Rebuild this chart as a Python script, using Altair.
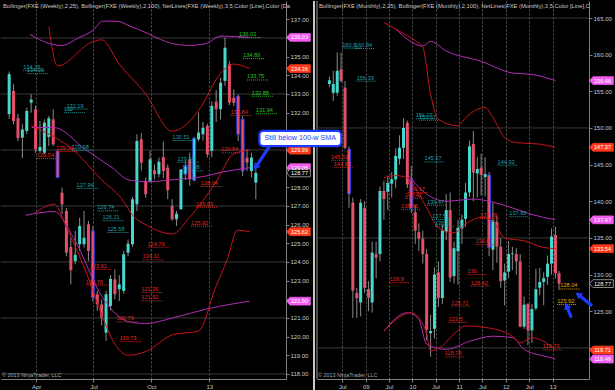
import altair as alt
import pandas as pd

FONT = "Liberation Sans"
UP, DN = "#46d8cc", "#e2506a"
WICK = "#8a8a8a"
BLUE = "#1e3cff"
RED_LINE, MAG_LINE = "#c8141c", "#b52db5"
TEAL, RED_TXT, GREEN, ORANGE = "#1f9fa6", "#e0281c", "#24c424", "#e8a000"
AXIS_C, LABEL_C, GRID_C, VGRID_C = "#808080", "#c8c8c8", "#3a3a3a", "#5a5a5a"
TAG_MAG, TAG_RED = "#f25cf2", "#ff3a1a"

LW, RW, H = 285, 272, 378
GAP = 31

# ---------------- weekly candles (left) ----------------
W_START = "2012-02-18"
W_OPEN = [131.92,133.16,131.70,130.66,131.02,132.53,132.18,129.95,129.85,130.70,
          131.64,129.95,127.71,126.73,124.80,124.05,124.95,124.95,126.02,125.66,
          122.27,121.73,120.21,121.64,123.07,122.54,122.45,124.50,124.95,127.09,
          130.57,128.34,128.34,128.91,128.70,129.62,129.05,127.00,126.29,126.82,
          128.70,129.50,128.38,130.57,130.84,131.29,129.95,132.59,132.18,133.70,
          134.59,132.80,132.89,131.64,129.59,128.87,128.25]
W_HIGH = [134.20,133.52,131.93,131.40,132.27,132.98,132.36,131.55,131.64,131.82,
          132.18,129.95,127.98,126.90,125.30,125.66,126.37,126.73,126.20,125.90,
          122.45,122.00,122.45,123.30,123.60,123.30,124.60,125.20,127.50,130.84,
          130.90,128.52,129.95,129.23,129.59,130.45,129.23,127.36,126.73,128.96,
          129.40,129.85,130.70,132.00,131.50,131.40,132.60,133.20,133.87,136.01,
          134.75,133.25,132.98,131.82,130.04,129.85,128.96]
W_LOW = [131.66,131.37,130.48,129.57,130.84,132.00,129.85,129.85,129.77,130.21,
         130.21,128.52,126.56,124.30,122.80,123.88,124.59,124.77,124.05,121.90,
         121.38,120.60,119.77,121.40,122.00,121.90,122.30,124.30,124.80,126.73,
         128.90,127.44,128.25,128.43,128.52,128.50,127.36,126.20,125.93,126.82,
         128.40,128.07,128.30,130.48,130.50,129.60,129.60,131.50,131.64,133.43,
         132.40,132.36,130.48,128.60,128.87,128.52,127.36]
W_CLOSE = [134.06,131.55,130.63,131.10,132.09,132.70,130.04,130.16,131.46,131.70,
           130.30,128.52,127.09,124.50,123.56,124.38,125.93,125.30,124.59,122.09,
           121.73,121.02,122.27,123.09,122.27,122.80,124.41,124.98,127.36,130.48,
           129.32,127.63,129.50,128.70,129.37,128.87,127.84,126.29,126.59,128.96,
           129.14,128.43,130.63,130.93,131.19,129.77,132.36,132.18,133.60,135.48,
           132.53,132.53,130.84,128.87,129.32,129.59,128.77]
W_BLUE = [11, 19, 40, 42, 52, 53]

# weekly bands (week index from first bar, value)
W_B25U_W = [9, 11, 19, 21, 25, 31, 37, 43, 48, 51, 54.6]
W_B25U_V = [136.6, 134.5, 135.8, 135.9, 134.6, 133.0, 131.0, 132.1, 134.1, 134.6, 134.36]
W_B25M_W = [5, 15, 21, 25.5, 28.4, 31, 37, 41, 47, 51, 54.6]
W_B25M_V = [131.3, 129.9, 128.4, 127.4, 126.4, 126.0, 125.5, 126.4, 128.3, 129.8, 129.99]
W_B25L_W = [5.8, 10.2, 13.1, 17.4, 21.8, 24, 27.1, 31, 37.1, 43, 46.8, 49.6, 51.8, 54.6]
W_B25L_V = [126.6, 127.1, 125.8, 123.5, 120.7, 119.6, 119.0, 119.2, 120.1, 120.3, 122.6, 124.2, 125.7, 125.62]
W_B100U_W = [4.7, 9.1, 12, 15.7, 19, 21.2, 24.4, 27.7, 29.9, 37.1, 40.9, 44.6, 48.1, 54.6]
W_B100U_V = [136.2, 135.7, 135.6, 136.0, 136.4, 136.9, 136.9, 136.6, 136.4, 135.7, 135.6, 135.7, 136.1, 136.03]
W_B100M_W = [5.1, 10.2, 17.4, 23.4, 27.1, 31, 37.1, 44.6, 48.1, 54.6]
W_B100M_V = [131.2, 131.2, 130.0, 129.05, 128.4, 128.3, 128.4, 128.6, 128.8, 129.05]
W_B100L_W = [3.7, 10.2, 14.6, 21.2, 27.1, 31, 37.1, 45.2, 54.6]
W_B100L_V = [126.5, 126.7, 125.3, 122.1, 120.8, 120.7, 121.0, 121.5, 121.90]

# weekly NetLines labels
WL_TXT = ["134.26","134.09","132.19","132","129.98","127.94","126.74","126.21","125.58",
          "130.51","129.34","128.88",
          "129.91","129.54","123.61","122.76","124.79","124.11","122.36","121.92","120.79",
          "119.73","128.04","126.93","125.92","131.84","129.84",
          "136.03","134.89","133.75","132.88","131.94"]
WL_W = [3.2, 4.0, 13.0, 12.4, 14.2, 15.3, 20.0, 21.2, 22.3,
        37.1, 38.2, 39.3,
        10.7, 6.3, 18.3, 17.4, 31.4, 30.3, 30.0, 30.0, 24.4,
        25.1, 43.5, 42.4, 41.3, 50.3, 48.1,
        52.2, 53.1, 54.0, 55.1, 56.0]
WL_KIND = ["t"] * 12 + ["r"] * 15 + ["g"] * 5

WT_V = [136.03, 134.36, 129.99, 129.05, 125.62, 121.90, 128.77]
WT_K = ["m", "r", "r", "m", "r", "m", "k"]

# ---------------- monthly candles (right) ----------------
M_MONTHS = pd.period_range("2008-04", "2013-03", freq="M").strftime("%Y-%m").tolist()
M_OPEN = [156.0,154.8,154.8,158.0,155.5,147.1,139.8,127.5,126.2,139.1,
          128.0,126.2,132.8,132.8,141.4,141.3,142.4,143.0,145.8,147.3,
          150.7,143.0,138.5,135.8,134.9,132.8,122.0,122.6,130.3,126.8,
          135.8,138.8,129.8,133.2,136.3,137.6,141.2,147.8,143.8,144.6,
          143.3,143.6,133.4,137.2,133.8,129.2,130.4,132.8,132.8,131.8,
          122.9,126.0,122.4,125.4,128.2,129.0,129.7,131.5,135.4,130.2]
M_HIGH = [157.0,157.8,160.3,160.3,156.4,147.5,140.5,128.2,140.3,140.0,
          129.1,134.5,134.5,142.0,142.8,143.5,144.0,147.2,149.0,151.3,
          151.0,144.8,139.5,137.0,136.0,133.5,124.5,131.0,131.8,136.8,
          141.0,141.2,134.5,137.5,138.2,142.5,148.3,149.6,146.0,146.5,
          146.0,144.0,139.8,138.0,135.0,131.5,134.6,133.8,133.6,132.8,
          127.0,126.1,126.0,130.8,130.9,130.3,132.6,136.3,136.5,130.5]
M_LOW = [155.6,153.7,154.4,156.2,147.1,139.1,124.1,124.1,124.3,127.5,
         125.0,124.8,129.5,131.8,137.5,138.8,140.5,141.8,145.0,145.8,
         141.8,138.4,134.2,133.2,131.5,121.0,118.8,121.3,125.6,126.0,
         134.7,129.0,128.8,128.6,134.2,136.5,140.6,140.0,140.5,140.8,
         140.7,132.5,130.6,131.6,128.2,125.8,129.5,130.6,130.0,122.8,
         122.6,120.4,120.7,125.1,127.2,125.8,128.6,130.0,129.5,127.9]
M_CLOSE = [156.5,156.0,157.8,156.4,147.3,141.0,127.8,126.8,139.8,128.2,
           126.85,133.0,132.3,141.4,140.3,142.5,143.0,146.2,147.3,150.0,
           142.3,139.0,136.0,134.9,132.8,122.5,122.3,130.0,126.8,136.0,
           138.8,129.6,133.6,136.4,137.5,141.2,147.5,143.9,144.4,143.6,
           143.7,133.7,137.4,133.8,129.1,130.3,132.8,132.9,131.8,122.9,
           125.9,122.4,125.3,128.0,129.0,129.5,131.5,135.2,130.2,128.77]
M_BLUE = ["2008-09", "2010-01", "2011-09"]

M_B25U_M = ["2009-06","2009-10","2010-02","2010-04","2010-06","2010-08","2011-01","2011-03",
            "2011-08","2011-10","2012-01","2012-04","2012-10","2013-02"]
M_B25U_V = [164.4,163.2,161.9,161.0,154.6,151.2,150.3,151.4,152.8,151.4,148.7,148.0,147.8,147.37]
M_B100U_M = ["2009-09","2010-04","2010-06","2010-10","2011-07","2012-03","2012-08","2013-02"]
M_B100U_V = [163.5,161.2,161.8,160.5,159.1,157.5,157.3,156.46]
M_B25M_M = ["2009-06","2009-09","2009-12","2010-03","2010-05","2010-08","2010-12","2011-03",
            "2011-07","2011-10","2012-01","2012-06","2012-11","2013-02"]
M_B25M_V = [143.2,143.5,143.2,141.0,139.1,136.4,135.7,136.9,137.8,137.3,135.0,134.6,133.7,133.54]
M_B100M_M = ["2009-12","2010-04","2010-10","2011-05","2011-09","2012-03","2012-08","2013-02"]
M_B100M_V = [143.7,141.4,140.0,140.3,140.0,139.1,138.2,137.47]
M_B25L_M = ["2009-06","2010-01","2010-03","2010-05","2010-06","2010-09","2010-12","2011-03",
            "2011-08","2012-03","2012-05","2012-08","2012-11","2013-02"]
M_B25L_V = [122.3,124.8,124.1,121.9,119.6,120.3,121.9,123.0,122.8,121.6,120.7,121.4,120.9,119.71]
M_B100L_M = ["2009-06","2009-12","2010-03","2010-05","2010-10","2011-04","2011-10","2012-03",
             "2012-06","2012-11","2013-02"]
M_B100L_V = [122.3,124.8,123.9,120.5,119.8,120.9,121.6,121.4,119.8,118.9,118.49]

# monthly NetLines labels (month offset from the Jul-2008 bar)
ML_TXT = ["160.9","160.84","156.39","151.27","151.07","145.37","144.93","139.47","137.5","136.6","137.89",
          "145.59","144.63","141.17","140.42","138.86","137.69","134.07","130","128.42","128.9",
          "125.71","123.5","118.78","119.73",
          "128.04","125.92"]
ML_K = [0.3, 3.6, 4.0, 19.2, 20.0, 21.4, 40.2, 22.1, 23.4, 24.1, 43.2,
        -2.6, -1.9, 17.2, 16.4, 15.4, 35.7, 34.5, 32.5, 33.3, 12.5,
        28.3, 27.6, 26.6, 51.8,
        56.3, 55.5]
ML_KIND = ["t"] * 11 + ["r"] * 14 + ["o"] * 2

MT_V = [156.46, 147.37, 137.47, 133.54, 119.71, 118.49, 128.77]
MT_K = ["m", "r", "m", "r", "r", "m", "k"]

HDR_L = "Bollinger(FXE (Weekly),2,25), Bollinger(FXE (Weekly),2,100), NetLines(FXE (Weekly),3,5,Color [Line],Color [Da"
HDR_R = "Bollinger(FXE (Monthly),2,25), Bollinger(FXE (Monthly),2,100), NetLines(FXE (Monthly),3,5,Color [Line],C"
COPY = "\u00a9 2013 NinjaTrader, LLC"
NOTE = "Still below 100-w SMA"

# annotation geometry (data coordinates)
NOTE_W = [56.8, 75.4]
NOTE_V = [131.02, 130.21]
ARR_L_W = [59.0, 56.0]
ARR_L_V = [130.16, 129.08]
ARR_R1_K = [64.2, 60.9]
ARR_R1_V = [125.85, 127.3]
ARR_R2_K = [59.0, 57.9]
ARR_R2_V = [124.3, 125.75]


def wdate(w):
    return pd.Timestamp(W_START) + pd.Timedelta(days=7 * w)


def mdate(m):
    return pd.Timestamp(m + "-01") - pd.Timedelta(days=9)


def moff(k):
    return pd.Timestamp("2008-06-22") + pd.Timedelta(days=30.44 * k)


KCOL = {"t": TEAL, "r": RED_TXT, "g": GREEN, "o": ORANGE}
TAGF = {"m": TAG_MAG, "r": TAG_RED, "k": "#000000"}
TAGS = {"m": TAG_MAG, "r": TAG_RED, "k": "#b0b0b0"}
TAG_PATH = "M-1,0 L-0.72,-0.33 L1,-0.33 L1,0.33 L-0.72,0.33 Z"


def candles_df(dates, o, h, l, c, blue_flags):
    df = pd.DataFrame({"d": dates, "o": o, "h": h, "l": l, "c": c})
    df["fill"] = [UP if cc >= oo else DN for oo, cc in zip(o, c)]
    df["st"] = [BLUE if b else "transparent" for b in blue_flags]
    return df


def lines_df(series):
    rows = []
    for sid, (dates, vals, col) in enumerate(series):
        for d, v in zip(dates, vals):
            rows.append({"d": d, "v": v, "s": sid, "col": col})
    return pd.DataFrame(rows)


def arrow(X, Y, pts, angle):
    d = pd.DataFrame(pts)
    shaft = alt.Chart(d).mark_line(color=BLUE, strokeWidth=3.2, strokeCap="round").encode(
        x=X("d"), y=Y("v"), order="i:Q")
    head = alt.Chart(d.tail(1)).mark_point(shape="triangle-up", filled=True, opacity=1, size=55,
                                           angle=angle, color=BLUE).encode(x=X("d"), y=Y("v"))
    return [shaft, head]


def panel(cdf, ldf, nl, tags, header, width, xdom, xticks, ydom, yticks, ygrid, extra_fn):
    xs = alt.Scale(domain=xdom)
    ys = alt.Scale(domain=ydom, nice=False, zero=False)
    xaxis = alt.Axis(values=xticks, title=None, grid=True, gridColor=VGRID_C, gridDash=[2, 2],
                     gridWidth=1, domainColor=AXIS_C, tickColor=AXIS_C, tickSize=3,
                     labelColor=LABEL_C, labelFont=FONT, labelFontSize=6, labelPadding=1,
                     labelExpr="month(datum.value) == 0 ? timeFormat(datum.value, '%y') : timeFormat(datum.value, '%b')",
                     zindex=0)
    yaxis = alt.Axis(orient="right", values=yticks, format=".2f", title=None, grid=False,
                     domainColor=AXIS_C, tickColor=AXIS_C, tickSize=3, labelColor=LABEL_C,
                     labelFont=FONT, labelFontSize=6, labelPadding=1, labelOverlap=False,
                     zindex=0)
    X = lambda f: alt.X(f, type="temporal", scale=xs, axis=xaxis)
    Y = lambda f: alt.Y(f, type="quantitative", scale=ys, axis=yaxis)

    grid = alt.Chart(pd.DataFrame({"g": ygrid})).mark_rule(color=GRID_C, strokeWidth=1).encode(
        y=Y("g"))
    wick = alt.Chart(cdf).mark_rule(color=WICK, strokeWidth=1, clip=True).encode(
        x=X("d"), y=Y("l"), y2="h:Q")
    body = alt.Chart(cdf).mark_bar(size=3, strokeWidth=0.8, clip=True).encode(
        x=X("d"), y=Y("o"), y2="c:Q",
        color=alt.Color("fill:N", scale=None),
        stroke=alt.Stroke("st:N", scale=None))
    bands = alt.Chart(ldf).mark_line(strokeWidth=1, interpolate="monotone", clip=True).encode(
        x=X("d"), y=Y("v"), color=alt.Color("col:N", scale=None), detail="s:N")
    nrule = alt.Chart(nl).mark_rule(strokeDash=[1, 1], strokeWidth=1).encode(
        x=X("d1"), x2="d2:T", y=Y("v"), color=alt.Color("col:N", scale=None))
    ntext = alt.Chart(nl).mark_text(align="left", baseline="bottom", dy=-0.5, fontSize=5.6,
                                    font=FONT).encode(
        x=X("d1"), y=Y("v"), text="t:N", color=alt.Color("col:N", scale=None))
    tagm = alt.Chart(tags).mark_point(shape=TAG_PATH, filled=True, opacity=1, size=560,
                                      strokeWidth=0.8).encode(
        x=alt.value(width + 12.5), y=Y("v"),
        color=alt.Color("f:N", scale=None), stroke=alt.Stroke("s:N", scale=None))
    tagt = alt.Chart(tags).mark_text(fontSize=5.6, font=FONT, color="#ffffff", dx=1).encode(
        x=alt.value(width + 12.5), y=Y("v"), text="t:N")
    hdr = alt.Chart(pd.DataFrame({"t": [header]})).mark_text(
        align="left", baseline="middle", fontSize=5.8, font=FONT, color="#c8c8c8").encode(
        x=alt.value(2), y=alt.value(5), text="t:N")
    cpy = alt.Chart(pd.DataFrame({"t": [COPY]})).mark_text(
        align="left", baseline="middle", fontSize=5.4, font=FONT, color="#a8a8a8").encode(
        x=alt.value(1), y=alt.value(374), text="t:N")
    layers = [grid, wick, body, bands, nrule, ntext, tagm, tagt, hdr, cpy] + extra_fn(X, Y)
    return alt.layer(*layers).properties(width=width, height=H)


# ---------- left panel ----------
w_dates = [wdate(i) for i in range(len(W_OPEN))]
wk = candles_df(w_dates, W_OPEN, W_HIGH, W_LOW, W_CLOSE,
                [i in W_BLUE for i in range(len(W_OPEN))])
wl = lines_df([
    ([wdate(w) for w in W_B100U_W], W_B100U_V, MAG_LINE),
    ([wdate(w) for w in W_B100M_W], W_B100M_V, MAG_LINE),
    ([wdate(w) for w in W_B100L_W], W_B100L_V, MAG_LINE),
    ([wdate(w) for w in W_B25U_W], W_B25U_V, RED_LINE),
    ([wdate(w) for w in W_B25M_W], W_B25M_V, RED_LINE),
    ([wdate(w) for w in W_B25L_W], W_B25L_V, RED_LINE),
])
wnl = pd.DataFrame({"t": WL_TXT, "v": [float(t) for t in WL_TXT],
                    "d1": [wdate(w) for w in WL_W], "d2": [wdate(w + 4.8) for w in WL_W],
                    "col": [KCOL[k] for k in WL_KIND]})
wtags = pd.DataFrame({"v": WT_V, "t": [f"{v:.2f}" for v in WT_V],
                      "f": [TAGF[k] for k in WT_K], "s": [TAGS[k] for k in WT_K]})

XDOM_L = [alt.DateTime(year=2012, month=2, date=13), alt.DateTime(year=2013, month=4, date=25)]
XT_L = [alt.DateTime(year=2012, month=4, date=1), alt.DateTime(year=2012, month=7, date=1),
        alt.DateTime(year=2012, month=10, date=1), alt.DateTime(year=2013, month=1, date=1)]
YDOM_L = [117.73, 137.98]


def left_extra(X, Y):
    one = pd.DataFrame({"a": [0]})
    # separator strip between the two panels and the right panel's left border
    sep = alt.Chart(one).mark_rule(color="#c8c8c8", strokeWidth=2).encode(
        x=alt.value(LW + GAP - 3), y=alt.value(0), y2=alt.value(H + 12))
    edge = alt.Chart(one).mark_rule(color="#9a9a9a", strokeWidth=1).encode(
        x=alt.value(LW + GAP), y=alt.value(0), y2=alt.value(H))
    note_df = pd.DataFrame({"d1": [wdate(NOTE_W[0])], "d2": [wdate(NOTE_W[1])],
                            "v1": [NOTE_V[0]], "v2": [NOTE_V[1]],
                            "dm": [wdate((NOTE_W[0] + NOTE_W[1]) / 2)],
                            "vm": [(NOTE_V[0] + NOTE_V[1]) / 2], "t": [NOTE]})
    box = alt.Chart(note_df).mark_rect(fill="#ffffff", stroke=BLUE, strokeWidth=2.2,
                                       cornerRadius=4).encode(
        x=X("d1"), x2="d2:T", y=Y("v1"), y2="v2:Q")
    txt = alt.Chart(note_df).mark_text(fontSize=7.2, font=FONT, color=BLUE).encode(
        x=X("dm"), y=Y("vm"), text="t:N")
    arr = arrow(X, Y, {"d": [wdate(w) for w in ARR_L_W], "v": ARR_L_V, "i": [0, 1]}, 217)
    return [sep, edge] + arr + [box, txt]


left = panel(wk, wl, wnl, wtags, HDR_L, LW, XDOM_L, XT_L, YDOM_L,
             list(range(118, 138)), [118, 121, 124, 127, 130, 133, 136], left_extra)

# ---------- right panel ----------
m_dates = [mdate(m) for m in M_MONTHS]
mk = candles_df(m_dates, M_OPEN, M_HIGH, M_LOW, M_CLOSE, [m in M_BLUE for m in M_MONTHS])
ml = lines_df([
    ([mdate(m) for m in M_B100U_M], M_B100U_V, MAG_LINE),
    ([mdate(m) for m in M_B100M_M], M_B100M_V, MAG_LINE),
    ([mdate(m) for m in M_B100L_M], M_B100L_V, MAG_LINE),
    ([mdate(m) for m in M_B25U_M], M_B25U_V, RED_LINE),
    ([mdate(m) for m in M_B25M_M], M_B25M_V, RED_LINE),
    ([mdate(m) for m in M_B25L_M], M_B25L_V, RED_LINE),
])
mnl = pd.DataFrame({"t": ML_TXT, "v": [float(t) for t in ML_TXT],
                    "d1": [moff(k) for k in ML_K], "d2": [moff(k + 5) for k in ML_K],
                    "col": [KCOL[k] for k in ML_KIND]})
mtags = pd.DataFrame({"v": MT_V, "t": [f"{v:.2f}" for v in MT_V],
                      "f": [TAGF[k] for k in MT_K], "s": [TAGS[k] for k in MT_K]})

XDOM_R = [alt.DateTime(year=2008, month=1, date=25), alt.DateTime(year=2013, month=9, date=3)]
XT_R = [alt.DateTime(year=y, month=m, date=1) for y in range(2008, 2014) for m in (1, 7)
        if (2008, 7) <= (y, m) <= (2013, 1)]
YDOM_R = [115.76, 167.32]


def right_extra(X, Y):
    a1 = arrow(X, Y, {"d": [moff(k) for k in ARR_R1_K], "v": ARR_R1_V, "i": [0, 1]}, 308)
    a2 = arrow(X, Y, {"d": [moff(k) for k in ARR_R2_K], "v": ARR_R2_V, "i": [0, 1]}, 337)
    return a1 + a2


right = panel(mk, ml, mnl, mtags, HDR_R, RW, XDOM_R, XT_R, YDOM_R,
              list(range(120, 166, 5)), [120, 135, 150, 165], right_extra)

chart = alt.hconcat(left, right, spacing=GAP, bounds="flush").configure(
    background="#000000", padding=0, font=FONT
).configure_view(strokeWidth=0)

chart.save("out.html", embed_options={"renderer": "svg", "actions": False})
